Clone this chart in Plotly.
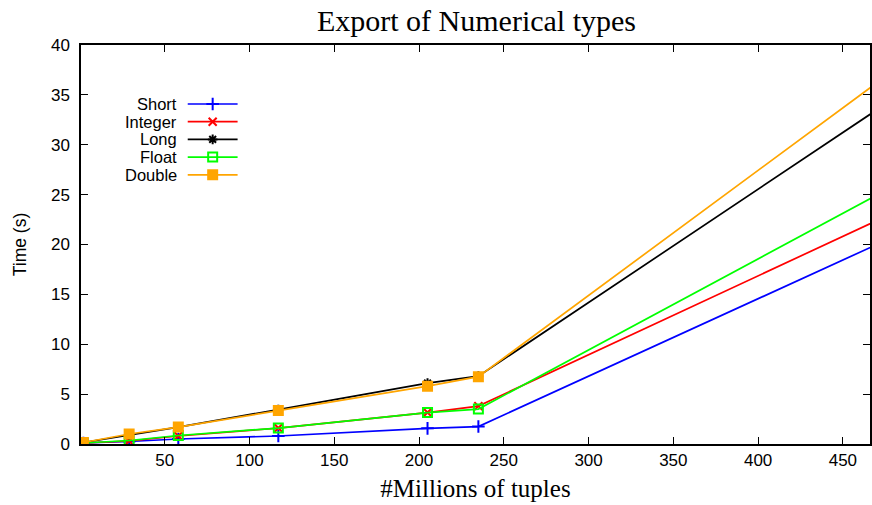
import plotly.graph_objects as go

# ---- data ----
tuples_millions = [2, 29, 58, 117, 205, 235, 470]
short_t   = [0.10, 0.25, 0.50, 0.80, 1.57, 1.75, 20.0]
integer_t = [0.10, 0.30, 0.80, 1.60, 3.15, 3.80, 22.4]
long_t    = [0.15, 0.90, 1.70, 3.45, 6.10, 6.80, 33.5]
float_t   = [0.10, 0.35, 0.85, 1.60, 3.15, 3.50, 24.95]
double_t  = [0.15, 1.00, 1.70, 3.35, 5.80, 6.75, 36.2]

series_names = ["Short", "Integer", "Long", "Float", "Double"]
series_vals = [short_t, integer_t, long_t, float_t, double_t]
x_ticks = [50, 100, 150, 200, 250, 300, 350, 400, 450]
y_ticks = [0, 5, 10, 15, 20, 25, 30, 35, 40]

colors = ["#0000ff", "#ff0000", "#000000", "#00ff00", "#ffa500"]
symbols = ["cross-thin", "x-thin", "asterisk", "square-open", "square"]
msizes = [9, 8, 8, 9, 9]

W, H = 872, 505
L, R, T, B = 81, 0, 45, 61

fig = go.Figure()
for name, vals, c, s, ms in zip(series_names, series_vals, colors, symbols, msizes):
    fig.add_trace(go.Scatter(
        x=tuples_millions, y=vals, name=name, mode="lines+markers",
        line=dict(color=c, width=1.7),
        marker=dict(symbol=s, size=ms, color=c, line=dict(color=c, width=2)),
        showlegend=False, cliponaxis=True,
    ))

# custom gnuplot-style legend (text left, sample right) on a pixel overlay axis
leg_y0, leg_dy = 104, 17.7
for i, (name, c, s, ms) in enumerate(zip(series_names, colors, symbols, msizes)):
    yy = leg_y0 + i * leg_dy
    fig.add_trace(go.Scatter(x=[188, 238], y=[yy, yy], mode="lines",
                             line=dict(color=c, width=1.7), xaxis="x2", yaxis="y2",
                             showlegend=False, hoverinfo="skip"))
    fig.add_trace(go.Scatter(x=[213], y=[yy], mode="markers",
                             marker=dict(symbol=s, size=ms, color=c, line=dict(color=c, width=2)),
                             xaxis="x2", yaxis="y2", showlegend=False, hoverinfo="skip"))
    fig.add_annotation(x=178, y=yy, xref="x2", yref="y2", text=name, showarrow=False,
                       xanchor="right", yanchor="middle", borderpad=0,
                       font=dict(family="Liberation Sans", size=16.5, color="black"))

axis_common = dict(showline=True, linecolor="black", linewidth=1.5, mirror="ticks",
                   ticks="inside", ticklen=7, tickwidth=1, tickcolor="black",
                   showgrid=False, zeroline=False,
                   tickfont=dict(family="Liberation Sans", size=17, color="black"))

fig.update_layout(
    width=W, height=H,
    margin=dict(l=L, r=R, t=T, b=B),
    paper_bgcolor="white", plot_bgcolor="white",
    title=dict(text="Export of Numerical types", x=(L + W) / 2 / W, xanchor="center",
               y=1 - 20 / H, yanchor="middle",
               font=dict(family="Liberation Serif", size=30, color="black")),
    xaxis=dict(range=[0.6, 466], tickvals=x_ticks,
               title=dict(text="#Millions of tuples", standoff=10,
                          font=dict(family="Liberation Serif", size=25, color="black")),
               **axis_common),
    yaxis=dict(range=[0, 40], tickvals=y_ticks, ticklabelstandoff=6,
               title=dict(text="Time (s)", standoff=20,
                          font=dict(family="Liberation Sans", size=17.5, color="black")),
               **axis_common),
    xaxis2=dict(overlaying="x", range=[L, W], visible=False, fixedrange=True),
    yaxis2=dict(overlaying="y", range=[H - B, T], visible=False, fixedrange=True),
)

fig.write_html("out.html")
